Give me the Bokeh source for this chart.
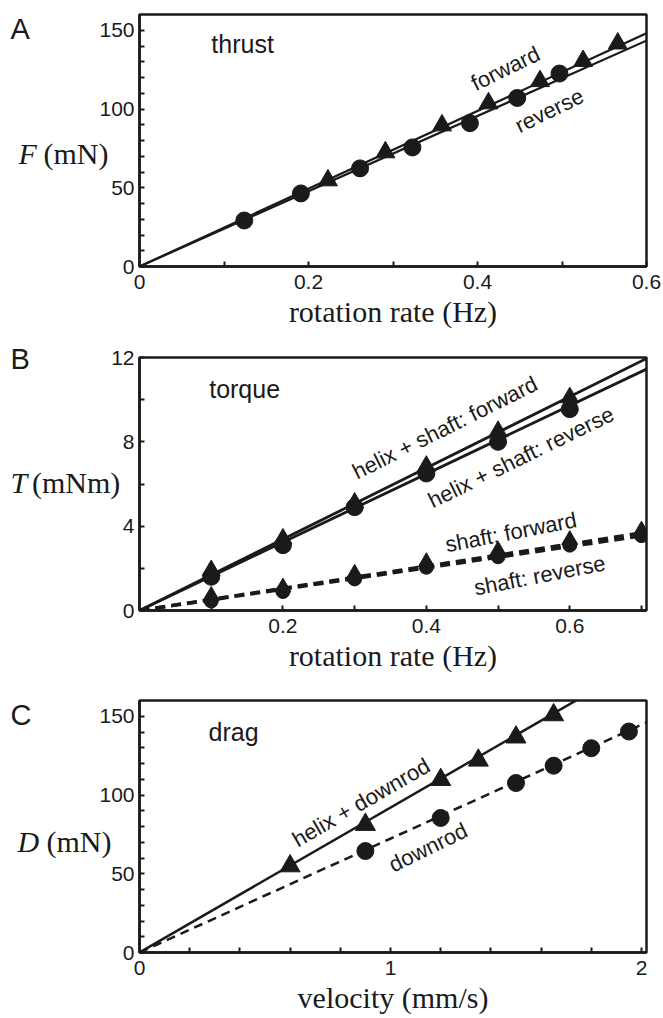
import math
from bokeh.plotting import figure
from bokeh.layouts import column
from bokeh.models import Range1d, FixedTicker, Label
from bokeh.embed import file_html
from bokeh.resources import INLINE
from bokeh.core.properties import value

# ---------------- data ----------------
# Panel A: thrust vs rotation rate
thrust_fwd_rate = [0.223, 0.291, 0.358, 0.413, 0.474, 0.525, 0.566]
thrust_fwd = [54.7, 72.5, 89.6, 103.6, 117.7, 130.5, 141.6]
thrust_rev_rate = [0.124, 0.191, 0.261, 0.323, 0.391, 0.447, 0.497]
thrust_rev = [29.2, 46.4, 62.3, 75.6, 91.0, 107.0, 122.5]
thrust_fit_rate = [0.0, 0.62]
thrust_fit_fwd = [0.0, 153.1]
thrust_fit_rev = [0.0, 148.2]

# Panel B: torque vs rotation rate
torque_rate = [0.1, 0.2, 0.3, 0.4, 0.5, 0.6]
torque_fwd = [1.9, 3.4, 5.1, 6.85, 8.5, 10.1]
torque_rev = [1.6, 3.1, 4.9, 6.5, 8.0, 9.55]
shaft_rate = [0.1, 0.2, 0.3, 0.4, 0.5, 0.6, 0.7]
shaft_fwd = [0.7, 1.1, 1.75, 2.3, 2.85, 3.35, 3.8]
shaft_rev = [0.45, 0.9, 1.5, 2.05, 2.55, 3.1, 3.55]
torque_fit_rate = [0.0, 0.72]
torque_fit_fwd = [0.0, 12.17]
torque_fit_rev = [0.0, 11.66]
shaft_fit_fwd = [0.0, 3.78]
shaft_fit_rev = [0.0, 3.64]

# Panel C: drag vs velocity
vel_helix = [0.6, 0.9, 1.2, 1.35, 1.5, 1.65]
drag_helix = [54.9, 81.2, 109.7, 122.0, 136.7, 150.8]
vel_rod = [0.9, 1.2, 1.5, 1.65, 1.8, 1.95]
drag_rod = [64.4, 85.4, 107.6, 118.6, 129.7, 140.3]
drag_fit_vel = [0.0, 2.05]
drag_fit_helix = [0.0, 188.6]
drag_fit_rod = [0.0, 148.2]

# tick labels
a_xticks = [0, 0.2, 0.4, 0.6]
a_yticks = [0, 50, 100, 150]
b_xticks = [0.2, 0.4, 0.6]
b_yticks = [0, 4, 8, 12]
c_xticks = [0, 1, 2]
c_yticks = [0, 50, 100, 150]

INK = "#1a1a1a"
SANS = "Liberation Sans"
SERIF = "Liberation Serif"
LEFT = 139
FW = 507


def make_fig(xr, yr, fh, top, bottom, xticks, xminor, yticks, yminor, xlabel):
    p = figure(frame_width=FW, frame_height=fh, min_border_left=LEFT,
               min_border_right=10, min_border_top=top, min_border_bottom=bottom,
               x_range=Range1d(*xr), y_range=Range1d(*yr),
               output_backend="svg", toolbar_location=None)
    p.grid.visible = False
    p.outline_line_color = INK
    p.outline_line_width = 2.5
    p.xaxis.ticker = FixedTicker(ticks=xticks, minor_ticks=xminor)
    p.yaxis.ticker = FixedTicker(ticks=yticks, minor_ticks=yminor)
    for ax in (p.xaxis[0], p.yaxis[0]):
        ax.axis_line_color = INK
        ax.axis_line_width = 2.5
        ax.major_tick_in = 5
        ax.major_tick_out = 0
        ax.minor_tick_in = 5
        ax.minor_tick_out = 0
        ax.major_tick_line_width = 2
        ax.minor_tick_line_width = 2
        ax.major_tick_line_color = INK
        ax.minor_tick_line_color = INK
        ax.major_label_text_font = SANS
        ax.major_label_text_font_size = "21px"
        ax.major_label_text_color = INK
    p.xaxis.major_label_standoff = 8
    p.yaxis.major_label_standoff = 5
    p.xaxis.axis_label = xlabel
    p.xaxis.axis_label_text_font = SERIF
    p.xaxis.axis_label_text_font_style = "normal"
    p.xaxis.axis_label_text_font_size = "30px"
    p.xaxis.axis_label_text_color = INK
    p.xaxis.axis_label_standoff = 3
    return p


def note(p, x, y, txt, ang, size="22px"):
    p.text(x=[x], y=[y], text=[txt], angle=math.radians(ang),
           text_align="center", text_baseline="middle",
           text_font=value(SANS), text_font_size=size, text_color=INK)


def side_labels(p, sym, sym_x, unit, unit_x, yc, letter, letter_y):
    # canvas units: pixels from the figure's top-left corner; kept in side
    # panels so they are not clipped to the plot frame
    p.add_layout(Label(x=sym_x, y=yc, x_units="canvas", y_units="canvas", text=sym,
                       text_font=SERIF, text_font_style="italic", text_font_size="30px",
                       text_color=INK, text_baseline="middle", text_align="left"), "left")
    p.add_layout(Label(x=unit_x, y=yc, x_units="canvas", y_units="canvas", text=unit,
                       text_font=SERIF, text_font_size="30px",
                       text_color=INK, text_baseline="middle", text_align="left"), "left")
    p.add_layout(Label(x=10, y=letter_y, x_units="canvas", y_units="canvas", text=letter,
                       text_font=SANS, text_font_size="29px",
                       text_color=INK, text_baseline="top", text_align="left"), "right")


# ---------------- Panel A ----------------
pa = make_fig((0, 0.6), (0, 160), 252, 14, 72, a_xticks, [0.1, 0.3, 0.5],
              a_yticks, [v for v in range(10, 160, 10) if v % 50], "rotation rate (Hz)")
pa.line(thrust_fit_rate, thrust_fit_fwd, line_color=INK, line_width=2.2)
pa.line(thrust_fit_rate, thrust_fit_rev, line_color=INK, line_width=2.2)
pa.scatter(thrust_rev_rate, thrust_rev, marker="circle", size=17, color=INK)
pa.scatter(thrust_fwd_rate, thrust_fwd, marker="triangle", size=19, color=INK)
note(pa, 0.122, 141, "thrust", 0, "25px")
note(pa, 0.433, 125.7, "forward", 26)
note(pa, 0.485, 99, "reverse", 26)
side_labels(pa, "F", 18, "(mN)", 43, 153, "A", 12)

# ---------------- Panel B ----------------
pb = make_fig((0, 0.707), (0, 12), 253, 19, 70, b_xticks, [0.1, 0.3, 0.5, 0.7],
              b_yticks, [2, 6, 10], "rotation rate (Hz)")
pb.line(torque_fit_rate, torque_fit_fwd, line_color=INK, line_width=2.8)
pb.line(torque_fit_rate, torque_fit_rev, line_color=INK, line_width=2.8)
pb.line(torque_fit_rate, shaft_fit_fwd, line_color=INK, line_width=3.5, line_dash="10 6")
pb.line(torque_fit_rate, shaft_fit_rev, line_color=INK, line_width=3.5, line_dash="10 6")
pb.scatter(torque_rate, torque_rev, marker="circle", size=17, color=INK)
pb.scatter(torque_rate, torque_fwd, marker="triangle", size=18, color=INK)
pb.scatter(shaft_rate, shaft_rev, marker="circle", size=14, color=INK)
pb.scatter(shaft_rate, shaft_fwd, marker="triangle", size=16, color=INK)
note(pb, 0.1466, 10.5, "torque", 0, "25px")
note(pb, 0.426, 8.67, "helix + shaft: forward", 26.5)
note(pb, 0.532, 7.27, "helix + shaft: reverse", 26)
note(pb, 0.518, 3.71, "shaft: forward", 11)
note(pb, 0.558, 1.66, "shaft: reverse", 11)
side_labels(pb, "T", 10, "(mNm)", 31.5, 143.5, "B", 4)

# ---------------- Panel C ----------------
pc = make_fig((0, 2.02), (0, 160), 252, 20, 62, c_xticks,
              [0.2, 0.4, 0.6, 0.8, 1.2, 1.4, 1.6, 1.8],
              c_yticks, [v for v in range(10, 160, 10) if v % 50], "velocity (mm/s)")
pc.line(drag_fit_vel, drag_fit_helix, line_color=INK, line_width=2.5)
pc.line(drag_fit_vel, drag_fit_rod, line_color=INK, line_width=2.5, line_dash="9 6")
pc.scatter(vel_rod, drag_rod, marker="circle", size=17, color=INK)
pc.scatter(vel_helix, drag_helix, marker="triangle", size=20, color=INK)
note(pc, 0.375, 139.7, "drag", 0, "25px")
note(pc, 0.883, 95.2, "helix + downrod", 30)
note(pc, 1.15, 66.7, "downrod", 26)
side_labels(pc, "D", 17, "(mN)", 46, 161, "C", 18)

layout = column(pa, pb, pc, spacing=0)
open("out.html", "w").write(file_html(layout, INLINE))
